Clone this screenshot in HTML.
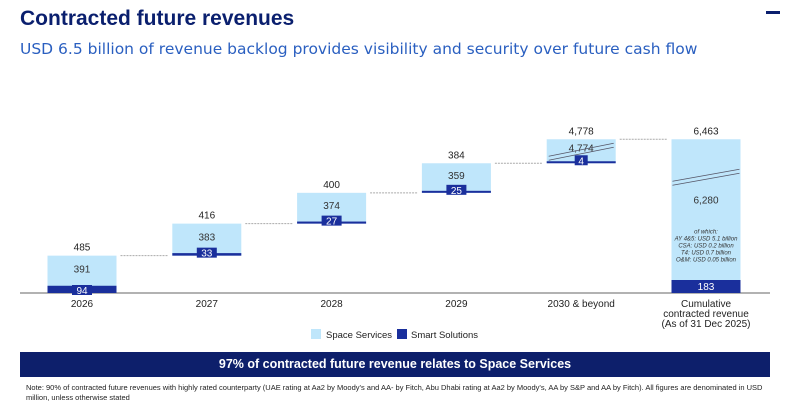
<!DOCTYPE html>
<html><head><meta charset="utf-8"><style>
body{margin:0;width:785px;height:408px;background:#fff;font-family:"Liberation Sans",sans-serif;overflow:hidden;position:relative}
.t{position:absolute;left:20px;top:7px;font-size:21px;font-weight:bold;color:#0a1f6e}
.s{position:absolute;left:20px;top:40px;font-size:15.5px;color:#2a5fc0;font-family:"DejaVu Sans",sans-serif;white-space:nowrap}
.mk{position:absolute;left:766px;top:11px;width:14px;height:3px;background:#0a1f6e}
.ban{position:absolute;left:20px;top:352px;width:750px;height:25px;background:#0d1f6b;color:#fff;font-weight:bold;font-size:12.5px;text-align:center;line-height:25px}
.note{position:absolute;left:26px;top:383px;width:740px;font-size:7.5px;color:#222;line-height:10px}
</style></head><body>
<div class="t">Contracted future revenues</div>
<div class="s">USD 6.5 billion of revenue backlog provides visibility and security over future cash flow</div>
<div class="mk"></div>
<svg id="c" width="785" height="350" style="position:absolute;left:0;top:0"></svg>
<div class="ban">97% of contracted future revenue relates to Space Services</div>
<div class="note">Note: 90% of contracted future revenues with highly rated counterparty (UAE rating at Aa2 by Moody's and AA- by Fitch, Abu Dhabi rating at Aa2 by Moody's, AA by S&amp;P and AA by Fitch). All figures are denominated in USD million, unless otherwise stated</div>
<script>
const categories=["2026","2027","2028","2029","2030 & beyond"];
const space=[391,383,374,359,4774];
const smart=[94,33,27,25,4];
const totals=[485,416,400,384,4778];
const totalSpace=6280, totalSmart=183, grandTotal=6463;
const svg=document.getElementById('c');const NS='http://www.w3.org/2000/svg';
function el(t,a,txt){const e=document.createElementNS(NS,t);for(const k in a)e.setAttribute(k,a[k]);if(txt!==undefined)e.textContent=txt;svg.appendChild(e);return e;}
const base=293, kk=0.077, capH=24, breakAt=1000, bw=69;
const xc=i=>82+i*124.8;
const ln=el('line',{x1:20,x2:770,y1:base,y2:base,stroke:'#999','stroke-width':1.5});

let bottom=base;
categories.forEach((c,i)=>{
  const tot=totals[i];const broken=tot>breakAt;
  const h=broken?capH:tot*kk;const btop=bottom-h;const x=xc(i)-bw/2;
  const sh=broken?0:smart[i]*kk;
  const r=el('rect',{x:x,y:btop,width:bw,height:h,fill:'#bfe6fb'});
  
  const d=el('rect',{x:x,y:bottom-Math.max(sh,2),width:bw,height:Math.max(sh,2),fill:'#1a2f9c'});
  
  const lb=String(smart[i]);const bwid=lb.length*7+6;
  const bx=el('rect',{x:xc(i)-bwid/2,y:bottom-8,width:bwid,height:10,fill:'#1a2f9c'});
  
  const st=el('text',{x:xc(i),y:bottom+1,'text-anchor':'middle','font-size':10,fill:'#fff'},lb);
  
  const sv=el('text',{x:xc(i),y:broken?btop+12:(btop+(bottom-sh-btop)/2+2),'text-anchor':'middle','font-size':10,fill:'#333'},space[i].toLocaleString('en-US'));
  
  if(broken){[0,4].forEach(o=>el('line',{x1:x+2,y1:btop+17+o,x2:x+bw-2,y2:btop+4+o,stroke:'#556','stroke-width':0.8}));}
  const tv=el('text',{x:xc(i),y:btop-5,'text-anchor':'middle','font-size':10,fill:'#222'},tot.toLocaleString('en-US'));
  
  const cl=el('text',{x:xc(i),y:307,'text-anchor':'middle','font-size':10,fill:'#222'},c);
  
  const cx2=xc(i+1)-bw/2;
  const con=el('line',{x1:x+bw+4,x2:cx2-4,y1:btop,y2:btop,stroke:'#aaa','stroke-width':1,'stroke-dasharray':'2,1'});
  
  bottom=btop;
});
const cx=xc(5),X=cx-bw/2,ctop=bottom,smH=13;
const cr=el('rect',{x:X,y:ctop,width:bw,height:base-ctop,fill:'#bfe6fb'});

const cd=el('rect',{x:X,y:base-smH,width:bw,height:smH,fill:'#1a2f9c'});

[0,4].forEach(o=>el('line',{x1:X+1,y1:ctop+42+o,x2:X+bw-1,y2:ctop+30+o,stroke:'#556','stroke-width':0.8}));
let t=el('text',{x:cx,y:base-3,'text-anchor':'middle','font-size':10,fill:'#fff'},totalSmart);

t=el('text',{x:cx,y:ctop+64,'text-anchor':'middle','font-size':10,fill:'#333'},totalSpace.toLocaleString('en-US'));

t=el('text',{x:cx,y:ctop-5,'text-anchor':'middle','font-size':10,fill:'#222'},grandTotal.toLocaleString('en-US'));

["of which:","AY 4&5: USD 5.1 billion","CSA: USD 0.2 billion","T4: USD 0.7 billion","O&M: USD 0.05 billion"].forEach((s,j)=>{
  const e=el('text',{x:cx,y:ctop+94+j*7,'text-anchor':'middle','font-size':6,'font-style':'italic',fill:'#333'},s);
  
});
["Cumulative","contracted revenue","(As of 31 Dec 2025)"].forEach((s,j)=>{
  const e=el('text',{x:cx,y:307+j*10,'text-anchor':'middle','font-size':10,fill:'#222'},s);
  
});
let lr=el('rect',{x:311,y:329,width:10,height:10,fill:'#bfe6fb'});
t=el('text',{x:326,y:338,'font-size':9.5,fill:'#222'},'Space Services');
lr=el('rect',{x:397,y:329,width:10,height:10,fill:'#1a2f9c'});
t=el('text',{x:411,y:338,'font-size':9.5,fill:'#222'},'Smart Solutions');
</script>
</body></html>
